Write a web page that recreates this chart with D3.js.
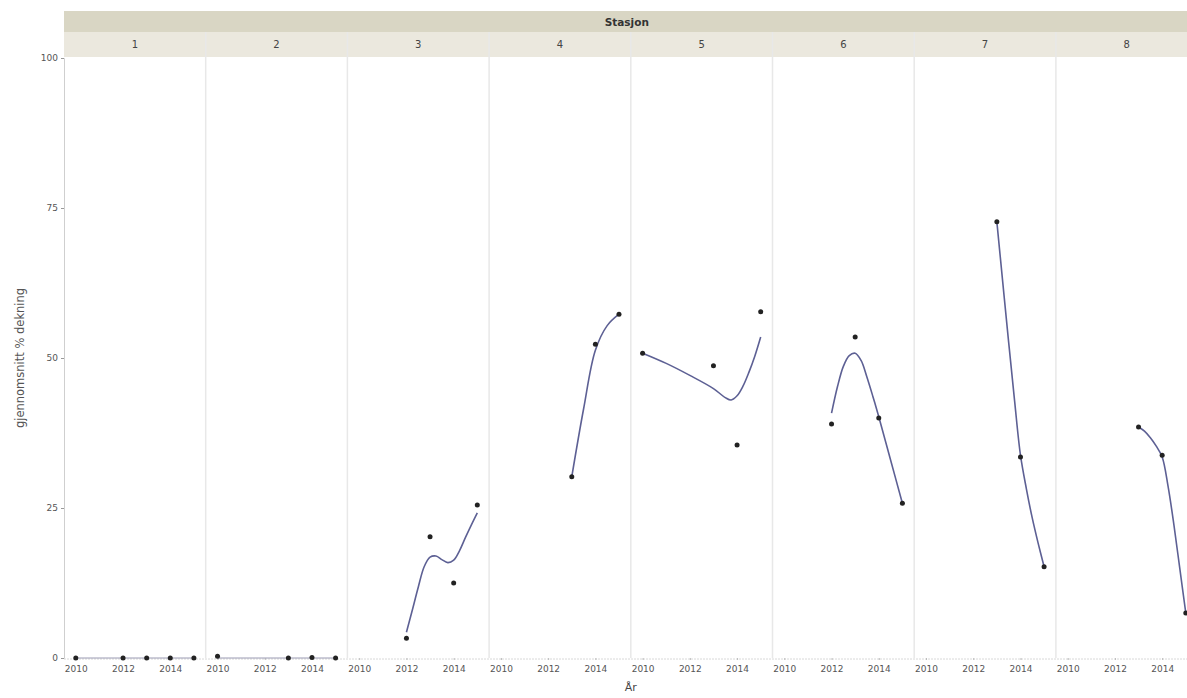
<!DOCTYPE html>
<html>
<head>
<meta charset="utf-8">
<script src="https://cdn.jsdelivr.net/npm/d3@7"></script>
<style>
  html, body { margin: 0; padding: 0; background: #fff; }
  svg { display: block; font-family: "DejaVu Sans", "Liberation Sans", sans-serif; }
</style>
</head>
<body>
<svg id="chart" width="1187" height="698"></svg>
<script>
// Stations (facet panels)
const stations = ["1", "2", "3", "4", "5", "6", "7", "8"];

// Observed yearly mean cover per station
const obsYears = [
  [2010, 2012, 2013, 2014, 2015],
  [2010, 2013, 2014, 2015],
  [2012, 2013, 2014, 2015],
  [2013, 2014, 2015],
  [2010, 2013, 2014, 2015],
  [2012, 2013, 2014, 2015],
  [2013, 2014, 2015],
  [2013, 2014, 2015]
];
const obsValues = [
  [0, 0, 0, 0, 0],
  [0.3, 0, 0.1, 0],
  [3.3, 20.2, 12.5, 25.5],
  [30.2, 52.3, 57.3],
  [50.8, 48.7, 35.5, 57.7],
  [39.0, 53.5, 40.0, 25.8],
  [72.7, 33.5, 15.2],
  [38.5, 33.8, 7.5]
];

// Smoother curve per station
const fitYears = [
  [2010, 2015],
  [2010, 2015],
  [2012, 2012.25, 2012.5, 2012.75, 2013, 2013.25, 2013.5, 2013.75, 2014, 2014.25, 2014.5, 2014.75, 2015],
  [2013, 2013.5, 2014, 2014.5, 2015],
  [2010, 2011, 2012, 2013, 2013.5, 2013.75, 2014, 2014.25, 2014.5, 2014.75, 2015],
  [2012, 2012.25, 2012.5, 2012.75, 2013, 2013.25, 2013.5, 2013.75, 2014, 2014.5, 2015],
  [2013, 2013.25, 2013.5, 2013.75, 2014, 2014.25, 2014.5, 2014.75, 2015],
  [2013, 2013.25, 2013.5, 2013.75, 2014, 2014.25, 2014.5, 2014.75, 2015]
];
const fitValues = [
  [0, 0],
  [0, 0],
  [4.3, 8.0, 11.8, 15.2, 16.8, 17.0, 16.4, 15.9, 16.3, 17.9, 20.1, 22.2, 24.2],
  [30.2, 41.5, 51.3, 55.4, 57.3],
  [50.8, 49.1, 47.1, 44.9, 43.4, 43.0, 43.7, 45.3, 47.6, 50.3, 53.5],
  [40.8, 45.2, 48.6, 50.4, 50.8, 49.6, 46.8, 43.6, 40.2, 33.0, 25.8],
  [72.7, 62.6, 52.6, 42.9, 33.8, 28.2, 23.3, 19.1, 15.2],
  [38.5, 37.8, 36.7, 35.3, 33.5, 28.6, 22.1, 14.8, 7.5]
];

// Axis ticks
const yTicks = [0, 25, 50, 75, 100];
const xTicks = [2010, 2012, 2014];

const svg = d3.select("#chart");

const plotLeft = 64, panelW = 141.7;
const plotTop = 58, plotBottom = 658;
const headTop = 11, headMid = 32, headBottom = 57;

const fx = d3.scaleBand().domain(stations)
  .range([plotLeft, plotLeft + panelW * stations.length]).padding(0);
const x = d3.scaleLinear().domain([2009.5, 2015.5]).range([0, fx.bandwidth()]);
const y = d3.scaleLinear().domain([0, 100]).range([plotBottom, plotTop]);

// Header bands
svg.append("rect").attr("x", plotLeft).attr("y", headTop)
  .attr("width", 1187 - plotLeft).attr("height", headMid - headTop)
  .attr("fill", "#d9d6c4");
svg.append("rect").attr("x", plotLeft).attr("y", headMid)
  .attr("width", 1187 - plotLeft).attr("height", headBottom - headMid)
  .attr("fill", "#ebe8de");
svg.append("text")
  .attr("x", fx.range()[0] + (fx.range()[1] - fx.range()[0]) / 2 - 4)
  .attr("y", headTop + 14.5)
  .attr("text-anchor", "middle")
  .attr("font-size", 10.5).attr("font-weight", "bold").attr("fill", "#333")
  .text("Stasjon");

// Y axis
const yAxis = svg.append("g").attr("transform", `translate(${plotLeft},0)`)
  .call(d3.axisLeft(y).tickValues(yTicks).tickSize(3).tickFormat(d3.format("d")));
yAxis.select(".domain").attr("stroke", "#cfcfcf");
yAxis.selectAll(".tick line").attr("stroke", "#999");
yAxis.selectAll(".tick text").attr("font-size", 9).attr("fill", "#555")
  .attr("font-family", "DejaVu Sans, Liberation Sans, sans-serif");

svg.append("text")
  .attr("transform", `translate(24,${(plotTop + plotBottom) / 2}) rotate(-90)`)
  .attr("text-anchor", "middle")
  .attr("font-size", 11.5).attr("fill", "#555")
  .text("gjennomsnitt % dekning");

// Bottom axis baseline across panels
svg.append("line")
  .attr("x1", plotLeft).attr("x2", 1187)
  .attr("y1", plotBottom + 1).attr("y2", plotBottom + 1)
  .attr("stroke", "#d8d8d8").attr("stroke-dasharray", "2,1");

const line = d3.line()
  .x(d => x(d[0])).y(d => y(d[1]))
  .curve(d3.curveCatmullRom.alpha(0.5));

stations.forEach((s, i) => {
  const g = svg.append("g").attr("transform", `translate(${fx(s)},0)`);

  // Panel separators
  if (i > 0) {
    g.append("line").attr("x1", 0).attr("x2", 0)
      .attr("y1", headMid).attr("y2", plotBottom)
      .attr("stroke", "#e8e8e8").attr("stroke-width", 1.5);
  }
  g.append("text").attr("x", fx.bandwidth() / 2).attr("y", headMid + 16)
    .attr("text-anchor", "middle").attr("font-size", 10).attr("fill", "#444")
    .text(s);

  // X axis for this panel
  const xa = g.append("g").attr("transform", `translate(0,${plotBottom})`)
    .call(d3.axisBottom(x).tickValues(xTicks).tickSize(2).tickFormat(d3.format("d")));
  xa.select(".domain").remove();
  xa.selectAll(".tick line").attr("stroke", "#bbb");
  xa.selectAll(".tick text").attr("font-size", 9).attr("fill", "#555").attr("dy", "0.95em")
    .attr("font-family", "DejaVu Sans, Liberation Sans, sans-serif");

  // Smoother
  const fit = fitYears[i].map((yr, k) => [yr, fitValues[i][k]]);
  g.append("path").datum(fit)
    .attr("d", line)
    .attr("fill", "none")
    .attr("stroke", i < 2 ? "#9a9ab2" : "#5d6094")
    .attr("stroke-width", i < 2 ? 1 : 1.6);

  // Observations
  g.selectAll("circle.obs")
    .data(obsYears[i].map((yr, k) => [yr, obsValues[i][k]]))
    .join("circle").attr("class", "obs")
    .attr("cx", d => x(d[0])).attr("cy", d => y(d[1]))
    .attr("r", 2.5).attr("fill", "#222");
});

svg.append("text")
  .attr("x", fx.range()[0] + (fx.range()[1] - fx.range()[0]) / 2)
  .attr("y", 691)
  .attr("text-anchor", "middle").attr("font-size", 11).attr("fill", "#444")
  .text("År");
</script>
</body>
</html>
